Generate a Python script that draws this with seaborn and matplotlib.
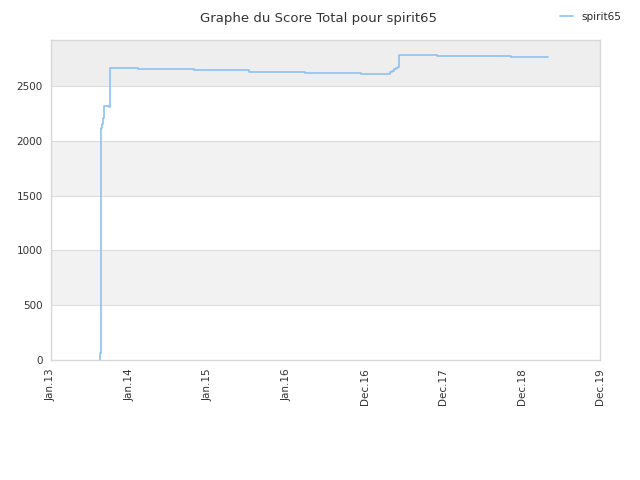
import matplotlib
matplotlib.use("Agg")
import matplotlib.pyplot as plt
import seaborn as sns
import pandas as pd

sns.set_theme(style="white")
plt.rcParams['font.family'] = ['DejaVu Sans']

# score history
dates = ['2013-08-18', '2013-08-19', '2013-08-20', '2013-08-21', '2013-08-25',
         '2013-09-01', '2013-09-06', '2013-09-29', '2013-10-03', '2014-02-08',
         '2014-10-29', '2015-07-10', '2016-03-26', '2016-12-13', '2017-04-18',
         '2017-04-26', '2017-05-06', '2017-05-16', '2017-05-26', '2017-06-04',
         '2017-06-10', '2017-12-01', '2018-11-10', '2019-05-03']
scores = [0, 67, 1200, 2117, 2153,
          2208, 2317, 2311, 2660, 2651,
          2642, 2632, 2623, 2614, 2612,
          2625, 2640, 2652, 2664, 2676,
          2786, 2777, 2768, 2768]

tick_dates = ['2013-01-01', '2014-01-01', '2015-01-01', '2016-01-01',
              '2016-12-31', '2017-12-31', '2018-12-31', '2019-12-31']
tick_labels = ['Jan.13', 'Jan.14', 'Jan.15', 'Jan.16', 'Dec.16', 'Dec.17', 'Dec.18', 'Dec.19']

df = pd.DataFrame({'date': pd.to_datetime(dates), 'score': scores})

fig = plt.figure(figsize=(6.4, 4.8), dpi=100)
ax = fig.add_axes([0.0797, 0.25, 0.8578, 0.6667])

# alternating horizontal bands
ymax = 2920
bands = [(0, 500, 'white'), (500, 1000, '#f2f2f2'), (1000, 1500, 'white'),
         (1500, 2000, '#f2f2f2'), (2000, 2500, 'white'), (2500, ymax, '#eeeeee')]
for lo, hi, c in bands:
    ax.axhspan(lo, hi, color=c, zorder=0, lw=0)
for y in range(500, 3000, 500):
    ax.axhline(y, color='#dddddd', lw=0.8, zorder=1)

sns.lineplot(data=df, x='date', y='score', ax=ax, color='#8fc1f0', lw=1.2,
             drawstyle='steps-post', label='spirit65', zorder=3, legend=False)

ax.set_xlim(pd.Timestamp(tick_dates[0]), pd.Timestamp(tick_dates[-1]))
ax.set_ylim(0, ymax)
ax.set_xticks(pd.to_datetime(tick_dates))
ax.set_xticklabels(tick_labels, rotation=90)
ax.set_yticks(range(0, 3000, 500))
ax.tick_params(axis='both', length=0, labelsize=7.5, labelcolor='#333333', pad=6)
ax.set_xlabel('')
ax.set_ylabel('')
for s in ax.spines.values():
    s.set_color('#d8d8d8')
    s.set_linewidth(1)

fig.text(0.497, 0.975, 'Graphe du Score Total pour spirit65', ha='center', va='top',
         fontsize=9.5, color='#333333')
fig.legend(loc='upper right', bbox_to_anchor=(0.985, 0.995), frameon=False,
           fontsize=7.5, handlelength=1.2)

fig.savefig('out.png', dpi=100)
